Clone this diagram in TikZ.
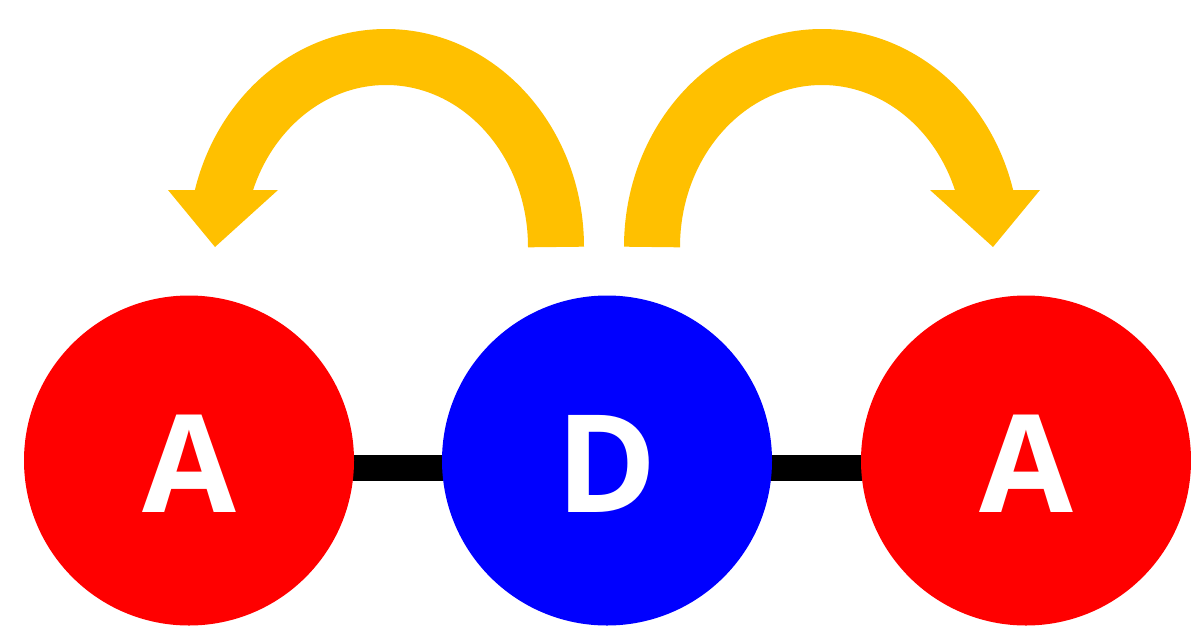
\documentclass[tikz,border=0pt]{standalone}
\usepackage{fontspec}
\setsansfont{Open Sans}
\usetikzlibrary{backgrounds}
\definecolor{arrowyellow}{RGB}{255,192,0}
\definecolor{nodered}{RGB}{255,0,0}
\definecolor{nodeblue}{RGB}{0,0,255}
\newcommand{\atomlabel}[1]{\raisebox{-3pt}[\height][\depth]{#1}}
\begin{document}
\begin{tikzpicture}[x=1pt,y=-1pt,
  atom/.style={circle,minimum size=330pt,inner sep=0pt,text=white,
    font=\sffamily\bfseries\fontsize{136}{136}\selectfont},
  bond/.style={line width=26pt,black},
  hop/.style={line width=56pt,arrowyellow,line cap=butt},
  hophead/.style={fill=arrowyellow,draw=none}]
\useasboundingbox (0,0) rectangle (1191,627);
\node[atom,fill=nodered] (a1) at (189,460.5) {\atomlabel{A}};
\node[atom,fill=nodeblue] (d) at (607,460.5) {\atomlabel{D}};
\node[atom,fill=nodered] (a2) at (1026,460.5) {\atomlabel{A}};
% bonds
\begin{scope}[on background layer]
\draw[bond] ([yshift=-7.5pt]a1.center) -- ([yshift=-7.5pt]d.center);
\draw[bond] ([yshift=-7.5pt]d.center) -- ([yshift=-7.5pt]a2.center);
\end{scope}
% hopping arrows
\coordinate (s1) at (556,247);
\coordinate (s2) at (652,247);
\draw[hop] (s1) arc[start angle=0,end angle=-167,x radius=170,y radius=190];
\fill[hophead] (168,190) -- (278,190) -- (215,247) -- cycle;
\draw[hop] (s2) arc[start angle=180,end angle=347,x radius=170,y radius=190];
\fill[hophead] (1040,190) -- (930,190) -- (993,247) -- cycle;
\end{tikzpicture}
\end{document}
